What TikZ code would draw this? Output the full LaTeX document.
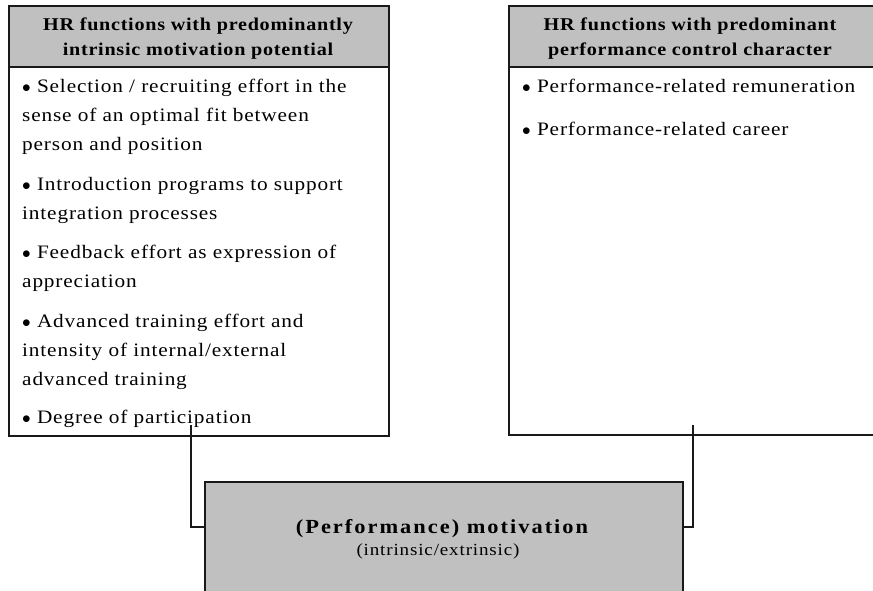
\documentclass[tikz,border=0pt]{standalone}
\usepackage{fontspec}
\setmainfont{Liberation Serif}[FakeStretch=1.12]
\usetikzlibrary{calc}
\definecolor{headgray}{RGB}{192,192,192}
\definecolor{boxline}{RGB}{25,25,25}
\tikzset{
  panel/.style={draw=boxline, line width=1.6pt, anchor=north west, inner sep=0pt},
  headbox/.style={panel, fill=headgray},
  headtext/.style={anchor=base, align=center, inner sep=0pt,
    font=\fontsize{18}{25}\selectfont\bfseries\addfontfeature{LetterSpace=4}},
  item/.style={anchor=base west, align=left, inner sep=0pt,
    font=\fontsize{19}{29}\selectfont\addfontfeature{LetterSpace=4.5}},
  link/.style={draw=boxline, line width=1.4pt},
}
\begin{document}
\begin{tikzpicture}[x=1pt,y=-1pt]
\useasboundingbox (0,0) rectangle (873,590);
% left column (item nodes are placed by the baseline of their last line)
\node[headbox, minimum width=380pt, minimum height=61pt] (lhead) at (8,5) {};
\node[panel, minimum width=380pt, minimum height=369pt] (lbody) at (8,66) {};
\node[headtext] (lh1) at (198,30) {HR functions with predominantly};
\node[headtext] (lh2) at (198,55) {intrinsic motivation potential};
\node[item] (li1) at (22,150) {$\bullet$ Selection / recruiting effort in the\\sense of an optimal fit between\\person and position};
\node[item] (li2) at (22,219) {$\bullet$ Introduction programs to support\\integration processes};
\node[item] (li3) at (22,287) {$\bullet$ Feedback effort as expression of\\appreciation};
\node[item] (li4) at (22,385) {$\bullet$ Advanced training effort and\\intensity of internal/external\\advanced training};
\node[item] (li5) at (22,423) {$\bullet$ Degree of participation};
% right column
\node[headbox, minimum width=365pt, minimum height=61pt] (rhead) at (508,5) {};
\node[panel, minimum width=365pt, minimum height=368pt] (rbody) at (508,66) {};
\node[headtext] (rh1) at (690,30) {HR functions with predominant};
\node[headtext] (rh2) at (690,55) {performance control character};
\node[item] (ri1) at (522,92) {$\bullet$ Performance-related remuneration};
\node[item] (ri2) at (522,135) {$\bullet$ Performance-related career};
% central box
\node[panel, fill=headgray, minimum width=478pt, minimum height=130pt] (mot) at (204,481) {};
\node[anchor=base, inner sep=0pt, font=\fontsize{20}{24}\selectfont\bfseries\addfontfeature{LetterSpace=10}] (m1) at (442,533) {(Performance) motivation};
\node[anchor=base, inner sep=0pt, font=\fontsize{17}{20}\selectfont\addfontfeature{LetterSpace=5}] (m2) at (438,555) {(intrinsic/extrinsic)};
% connectors
\coordinate (lstart) at (191,425);
\coordinate (rstart) at (693,425);
\draw[link] (lstart) |- ($(mot.north west)+(0,46)$);
\draw[link] (rstart) |- ($(mot.north east)+(0,46)$);
\end{tikzpicture}
\end{document}
